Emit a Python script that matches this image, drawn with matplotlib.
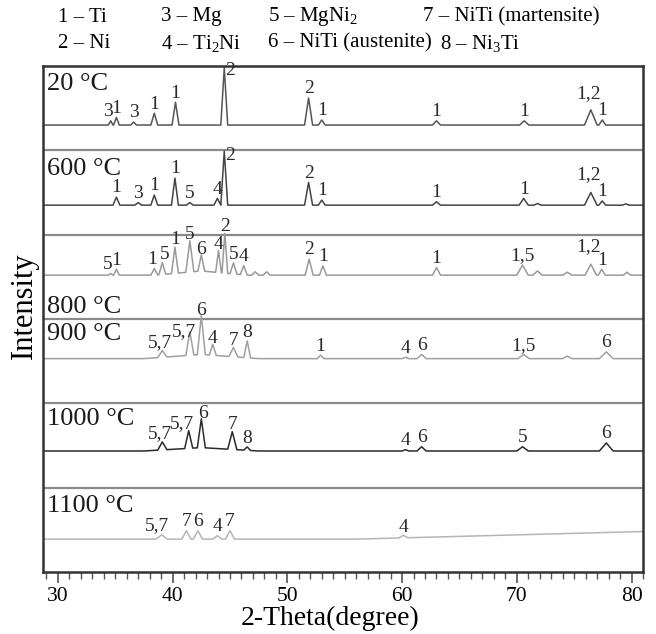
import numpy as np
import matplotlib
matplotlib.use('Agg')
import matplotlib.pyplot as plt
from matplotlib.ticker import MultipleLocator
from matplotlib.transforms import blended_transform_factory

plt.rcParams['font.family'] = ['Liberation Serif', 'DejaVu Serif']
plt.rcParams['mathtext.fontset'] = 'custom'
plt.rcParams['mathtext.rm'] = 'Liberation Serif'
plt.rcParams['mathtext.it'] = 'Liberation Serif:italic'

# phase key shown above the frame
phases = ['1 – Ti', '2 – Ni', '3 – Mg', '4 – Ti$_2$Ni',
          '5 – MgNi$_2$', '6 – NiTi (austenite)', '7 – NiTi (martensite)', '8 – Ni$_3$Ti']

temps = ['20 °C', '600 °C', '800 °C', '900 °C', '1000 °C', '1100 °C']
# baseline of each trace, panel units (bottom panel spans 0..1)
bases = [5.30, 4.35, 3.52, 2.53, 1.435, 0.39]

# peaks: position (deg), height (panel units), half width (deg), label
x20 = [34.6, 35.1, 36.6, 38.4, 40.25, 44.5, 51.85, 53.0, 63.0, 70.65, 76.45, 77.45]
h20 = [0.05, 0.09, 0.035, 0.14, 0.27, 0.68, 0.32, 0.06, 0.05, 0.05, 0.18, 0.06]
w20 = [0.2, 0.25, 0.25, 0.3, 0.3, 0.3, 0.35, 0.3, 0.35, 0.4, 0.55, 0.3]
l20 = ['3', '1', '3', '1', '1', '2', '2', '1', '1', '1', '1,2', '1']

x600 = [35.1, 37.0, 38.4, 40.2, 41.5, 43.9, 44.5, 51.85, 53.0, 63.0, 70.6, 71.8, 76.45, 77.45, 79.5]
h600 = [0.095, 0.03, 0.12, 0.32, 0.03, 0.08, 0.64, 0.27, 0.06, 0.04, 0.08, 0.02, 0.15, 0.05, 0.015]
w600 = [0.3, 0.3, 0.3, 0.3, 0.3, 0.3, 0.3, 0.35, 0.3, 0.35, 0.4, 0.3, 0.55, 0.3, 0.3]
l600 = ['1', '3', '1', '1', '5', '4', '2', '2', '1', '1', '1', '', '1,2', '1', '']

x800 = [34.6, 35.1, 38.4, 39.1, 40.2, 41.5, 42.5, 44.0, 44.55, 45.3, 46.2, 47.2, 48.2,
        51.9, 53.1, 63.0, 70.5, 71.8, 74.4, 76.45, 77.4, 79.6, 42.5]
h800 = [0.02, 0.07, 0.08, 0.14, 0.31, 0.37, 0.19, 0.26, 0.47, 0.13, 0.11, 0.04, 0.04,
        0.19, 0.11, 0.09, 0.12, 0.05, 0.035, 0.13, 0.07, 0.035, 0.05]
w800 = [0.2, 0.25, 0.3, 0.3, 0.3, 0.35, 0.3, 0.25, 0.25, 0.3, 0.3, 0.3, 0.3,
        0.35, 0.3, 0.35, 0.5, 0.4, 0.4, 0.5, 0.3, 0.3, 4.0]
l800 = ['5', '1', '1', '5', '1', '5', '6', '4', '2', '5', '4', '', '',
        '2', '1', '1', '1,5', '', '', '1,2', '1', '', '']

x900 = [39.1, 41.5, 42.5, 43.5, 45.3, 46.5, 52.9, 60.3, 61.7, 70.6, 74.4, 77.8, 42.5]
h900 = [0.08, 0.28, 0.46, 0.13, 0.11, 0.20, 0.04, 0.015, 0.05, 0.05, 0.03, 0.08, 0.05]
w900 = [0.4, 0.35, 0.35, 0.3, 0.4, 0.3, 0.3, 0.3, 0.4, 0.5, 0.4, 0.6, 5.0]
l900 = ['5,7', '5,7', '6', '4', '7', '8', '1', '4', '6', '1,5', '', '6', '']

x1000 = [39.1, 41.4, 42.5, 45.2, 46.5, 60.3, 61.7, 70.5, 77.8, 42.5]
h1000 = [0.095, 0.21, 0.34, 0.21, 0.04, 0.015, 0.05, 0.05, 0.095, 0.04]
w1000 = [0.4, 0.35, 0.35, 0.4, 0.3, 0.3, 0.4, 0.5, 0.6, 5.0]
l1000 = ['5,7', '5,7', '6', '7', '8', '4', '6', '5', '6', '']

x1100 = [39.05, 41.2, 42.2, 43.9, 45.0, 60.1, 81.0]
h1100 = [0.05, 0.10, 0.10, 0.04, 0.10, 0.03, 0.09]
w1100 = [0.5, 0.4, 0.4, 0.4, 0.4, 0.4, 25.0]
l1100 = ['5,7', '7', '6', '4', '7', '4', '']

peak_x = [x20, x600, x800, x900, x1000, x1100]
peak_h = [h20, h600, h800, h900, h1000, h1100]
peak_w = [w20, w600, w800, w900, w1000, w1100]
peak_l = [l20, l600, l800, l900, l1000, l1100]

# label y baseline of the temperature captions
temp_y = [5.716, 4.708, 3.071, 2.751, 1.743, 0.711]

line_cols = ['#555555', '#444444', '#9a9a9a', '#a0a0a0', '#2a2a2a', '#b5b5b5']
# (panel, peak index): label offset in points (dx, dy)
nudge = {(0, 0): (-2, 0), (0, 5): (4.5, -9), (1, 6): (4, -10), (2, 0): (-2, 0),
         (2, 2): (-1.5, 0), (2, 3): (1.5, 0),
         (0, 10): (-1.5, 5), (1, 12): (-1.5, 6), (2, 19): (-1.5, 6),
         (3, 0): (-1.5, 0), (3, 1): (-4.5, -4),
         (4, 0): (-1.5, 0), (4, 1): (-4.5, 0), (4, 2): (1.5, 0), (5, 0): (-3.5, 0)}

XMIN, XMAX = 28.7, 81.0


def trace(base, px, ph, pw):
    xs = {XMIN, XMAX}
    for p, w in zip(px, pw):
        xs.update([p - w, p, p + w])
    xs = np.array(sorted(v for v in xs if XMIN <= v <= XMAX))
    ys = np.full_like(xs, base)
    for p, h, w in zip(px, ph, pw):
        ys += h * np.clip(1 - np.abs(xs - p) / w, 0, None)
    return xs, ys


fig = plt.figure(figsize=(6.56, 6.34), dpi=100)
ax = fig.add_axes([43 / 656, 62 / 634, 600 / 656, 506 / 634])
ax.set_xlim(XMIN, XMAX)
ax.set_ylim(0, 6)

for k in range(1, 6):
    ax.axhline(k, color='#8a8a8a', lw=1.6, zorder=1)

trans = blended_transform_factory(ax.transAxes, ax.transData)
for i, t in enumerate(temps):
    xs, ys = trace(bases[i], peak_x[i], peak_h[i], peak_w[i])
    ax.plot(xs, ys, color=line_cols[i], lw=1.1, zorder=2)
    ax.text(0.007, temp_y[i], t, transform=trans, fontsize=19, color='#1a1a1a',
            va='baseline', ha='left')
    for j, (p, h, lab) in enumerate(zip(peak_x[i], peak_h[i], peak_l[i])):
        if not lab:
            continue
        dx, dy = nudge.get((i, j), (0, 0))
        ax.annotate(lab, (p, bases[i] + h), xytext=(dx, 0.5 + dy),
                    textcoords='offset points', ha='center', va='bottom',
                    fontsize=14, color='#2a2a2a', zorder=3)

ax.set_yticks([])
ax.set_xticks(range(30, 81, 10))
ax.xaxis.set_minor_locator(MultipleLocator(1))
ax.tick_params(axis='x', which='major', direction='out', length=8, width=1.2,
               color='#555555', labelsize=15.5, pad=3)
ax.tick_params(axis='x', which='minor', direction='out', length=5, width=1.0,
               color='#555555')
for s in ax.spines.values():
    s.set_linewidth(1.8)
    s.set_color('#333333')

fig.text(330 / 656, 1 - 618 / 634, '2-Theta(degree)', fontsize=20,
         ha='center', va='center')
fig.text(24 / 656, 1 - 306 / 634, 'Intensity', fontsize=22, rotation=90,
         ha='center', va='center')

# phase key, two rows
key_x = [(58, 58), (161, 161), (268, 268), (423, 440)]
for n, s in enumerate(phases):
    row = n % 2
    fig.text(key_x[n // 2][row] / 656, 1 - (17 if row == 0 else 43) / 634, s,
             fontsize=15, ha='left', va='center')

fig.savefig('out.png', dpi=100)
